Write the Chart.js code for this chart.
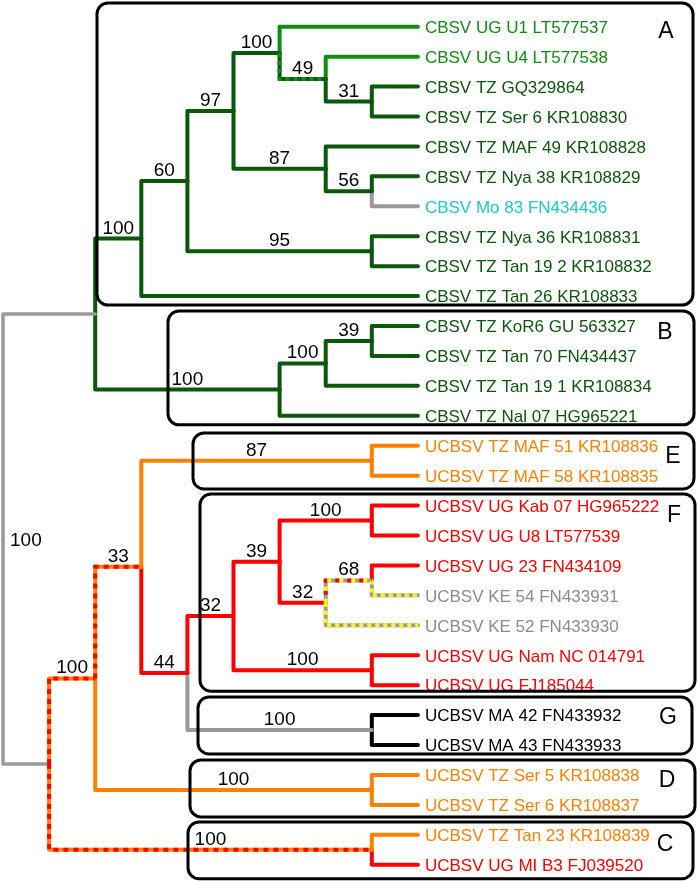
<!DOCTYPE html>
<html>
<head>
<meta charset="utf-8">
<script src="https://cdn.jsdelivr.net/npm/chart.js@4.4.1/dist/chart.umd.min.js"></script>
<style>
  html, body { margin: 0; padding: 0; background: #fff; }
  #wrap { width: 697px; height: 883px; position: relative; }
</style>
</head>
<body>
<div id="wrap"><canvas id="tree"></canvas></div>
<script>
// Tips, top to bottom (y value = index)
const leafNames = [
  "CBSV UG U1 LT577537", "CBSV UG U4 LT577538", "CBSV TZ GQ329864", "CBSV TZ Ser 6 KR108830",
  "CBSV TZ MAF 49 KR108828", "CBSV TZ Nya 38 KR108829", "CBSV Mo 83 FN434436",
  "CBSV TZ Nya 36 KR108831", "CBSV TZ Tan 19 2 KR108832", "CBSV TZ Tan 26 KR108833",
  "CBSV TZ KoR6 GU 563327", "CBSV TZ Tan 70 FN434437", "CBSV TZ Tan 19 1 KR108834",
  "CBSV TZ Nal 07 HG965221", "UCBSV TZ MAF 51 KR108836", "UCBSV TZ MAF 58 KR108835",
  "UCBSV UG Kab 07 HG965222", "UCBSV UG U8 LT577539", "UCBSV UG 23 FN434109",
  "UCBSV KE 54 FN433931", "UCBSV KE 52 FN433930", "UCBSV UG Nam NC 014791",
  "UCBSV UG FJ185044", "UCBSV MA 42 FN433932", "UCBSV MA 43 FN433933",
  "UCBSV TZ Ser 5 KR108838", "UCBSV TZ Ser 6 KR108837", "UCBSV TZ Tan 23 KR108839",
  "UCBSV UG MI B3 FJ039520"
];
const leafTextColors = [
  "ltgreen", "ltgreen", "dkgreen", "dkgreen", "dkgreen", "dkgreen", "cyan", "dkgreen", "dkgreen", "dkgreen",
  "dkgreen", "dkgreen", "dkgreen", "dkgreen", "orange", "orange", "red", "red", "red", "grayText",
  "grayText", "red", "red", "black", "black", "orange", "orange", "orange", "red"
];
const leafBranch = [
  "ltgreen", "ltgreen", "dkgreen", "dkgreen", "dkgreen", "dkgreen", "gray", "dkgreen", "dkgreen", "dkgreen",
  "dkgreen", "dkgreen", "dkgreen", "dkgreen", "orange", "orange", "red", "red", "red", "grayYellow",
  "grayYellow", "red", "red", "black", "black", "orange", "orange", "orange", "red"
];
const tipDepth = 9;

// Internal nodes: depth (0 = root), children (number = tip index), support, branch leading to node
const nodeIds      = ["root", "cbsv", "A", "n60", "n97", "n100a", "n49", "n31", "n87", "n56", "n95",
                      "B", "nB100", "nB39", "ucbsv", "n100u", "n33", "E", "n44", "n32a", "n39",
                      "n100c", "n32b", "n68", "n100b", "G", "D", "C"];
const nodeDepths   = [0, 2, 3, 4, 5, 6, 7, 8, 7, 8, 8,
                      6, 7, 8, 1, 2, 3, 8, 4, 5, 6,
                      8, 7, 8, 8, 8, 8, 8];
const nodeChildren = [["cbsv", "ucbsv"], ["A", "B"], ["n60", 9], ["n97", "n95"], ["n100a", "n87"],
                      [0, "n49"], [1, "n31"], [2, 3], [4, "n56"], [5, 6], [7, 8],
                      ["nB100", 13], ["nB39", 12], [10, 11], ["n100u", "C"], ["n33", "D"],
                      ["E", "n44"], [14, 15], ["n32a", "G"], ["n39", "n100b"], ["n100c", "n32b"],
                      [16, 17], ["n68", 20], [18, 19], [21, 22], [23, 24], [25, 26], [27, 28]];
const nodeSupport  = [100, null, 100, 60, 97, 100, 49, 31, 87, 56, 95,
                      100, 100, 39, null, 100, 33, 87, 44, 32, 39,
                      100, 32, 68, 100, 100, 100, 100];
const nodeBranch   = [null, "grayRoot", "dkgreen", "dkgreen", "dkgreen", "dkgreen", "greenMix", "dkgreen", "dkgreen", "dkgreen", "dkgreen",
                      "dkgreen", "dkgreen", "dkgreen", "grayRoot", "redOrange", "redOrange", "orange", "red", "red", "red",
                      "red", "red", "grayMix", "red", "gray", "orange", "redOrange"];

// Clade boxes
const cladeLabels = ["A", "B", "E", "F", "G", "D", "C"];
const cladeFirst  = [0, 10, 14, 16, 23, 25, 27];
const cladeLast   = [9, 13, 15, 22, 24, 26, 28];

const colors = {
  dkgreen: "#0b570b", ltgreen: "#128c12", cyan: "#1ccad2", gray: "#9a9a9a", grayText: "#8c8c8c",
  red: "#ff0000", orange: "#ff8000", yellow: "#ffff00", black: "#000000"
};
const branchStyles = {
  dkgreen: { base: "dkgreen" },
  ltgreen: { base: "ltgreen" },
  greenMix: { base: "dkgreen", over: [["ltgreen", [4, 4], 0]] },
  gray: { base: "gray" },
  grayRoot: { base: "gray", width: 3.5 },
  red: { base: "red" },
  orange: { base: "orange" },
  black: { base: "black" },
  redOrange: { base: "orange", over: [["red", [5, 5], 0]] },
  grayYellow: { base: "gray", over: [["yellow", [4, 4], 0]] },
  grayMix: { base: "gray", over: [["yellow", [4, 8], 0], ["red", [4, 8], 4]] }
};

// box layout (pixels)
const boxLayout = {
  A: { left: 97, right: 693, padTop: 23.7, padBot: 9, lx: 27, ly: 3.3 },
  B: { left: 168, right: 694, padTop: 15, padBot: 9, lx: 29, ly: 5 },
  E: { left: 193, right: 694, padTop: 12.7, padBot: 13.3, lx: 21, ly: 9.3 },
  F: { left: 200, right: 695, padTop: 11.6, padBot: 6, lx: 21, ly: 8.4 },
  G: { left: 198, right: 692, padTop: 18, padBot: 9, lx: 24, ly: 0.9 },
  D: { left: 190, right: 695, padTop: 15, padBot: 12, lx: 28, ly: 4 },
  C: { left: 188, right: 693, padTop: 12.8, padBot: 14, lx: 28, ly: 8 }
};

function nodeIndex(id) { return nodeIds.indexOf(id); }
function depthOf(c) { return typeof c === "number" ? tipDepth : nodeDepths[nodeIndex(c)]; }
function yOf(c) {
  if (typeof c === "number") return c;
  const kids = nodeChildren[nodeIndex(c)];
  return (yOf(kids[0]) + yOf(kids[kids.length - 1])) / 2;
}
function branchOf(c) { return typeof c === "number" ? leafBranch[c] : nodeBranch[nodeIndex(c)]; }

// build elbow datasets (higher order = drawn underneath, so dashes go on top)
const datasets = [];
nodeIds.forEach((id, i) => {
  const px = nodeDepths[i], py = yOf(id);
  nodeChildren[i].forEach((c) => {
    const pts = [{ x: px, y: py }, { x: px, y: yOf(c) }, { x: depthOf(c), y: yOf(c) }];
    const st = branchStyles[branchOf(c)];
    const w = st.width || 4;
    datasets.push({
      data: pts, showLine: true, pointRadius: 0, borderWidth: w, order: 2,
      borderColor: colors[st.base], borderCapStyle: "round", borderJoinStyle: "round", tension: 0
    });
    (st.over || []).forEach(([col, dash, off]) => {
      datasets.push({
        data: pts, showLine: true, pointRadius: 0, borderWidth: w, order: 1,
        borderColor: colors[col], borderDash: dash, borderDashOffset: off,
        borderCapStyle: "butt", borderJoinStyle: "miter", tension: 0
      });
    });
  });
});

function roundRect(ctx, x, y, w, h, r) {
  ctx.beginPath();
  ctx.moveTo(x + r, y);
  ctx.lineTo(x + w - r, y);
  ctx.arcTo(x + w, y, x + w, y + r, r);
  ctx.lineTo(x + w, y + h - r);
  ctx.arcTo(x + w, y + h, x + w - r, y + h, r);
  ctx.lineTo(x + r, y + h);
  ctx.arcTo(x, y + h, x, y + h - r, r);
  ctx.lineTo(x, y + r);
  ctx.arcTo(x, y, x + r, y, r);
  ctx.closePath();
}

const treeText = {
  id: "treeText",
  afterDatasetsDraw(chart) {
    const ctx = chart.ctx;
    const xs = chart.scales.x, ys = chart.scales.y;
    ctx.save();

    // tip labels
    ctx.font = '17px "Liberation Sans", Arial, sans-serif';
    ctx.textAlign = "left";
    ctx.textBaseline = "alphabetic";
    leafNames.forEach((name, i) => {
      ctx.fillStyle = colors[leafTextColors[i]];
      ctx.fillText(name, xs.getPixelForValue(tipDepth) + 7, ys.getPixelForValue(i) + 6.3);
    });

    // support values
    ctx.font = '19px "Liberation Sans", Arial, sans-serif';
    ctx.fillStyle = "#000";
    nodeIds.forEach((id, i) => {
      if (nodeSupport[i] == null) return;
      if (id === "root") {
        ctx.textAlign = "left";
        ctx.textBaseline = "middle";
        ctx.fillText(String(nodeSupport[i]), xs.getPixelForValue(0) + 7, ys.getPixelForValue(yOf(id)) + 2);
        return;
      }
      // parent of this node
      const p = nodeChildren.findIndex((k) => k.includes(id));
      const x0 = xs.getPixelForValue(nodeDepths[p]);
      const x1 = xs.getPixelForValue(nodeDepths[i]);
      ctx.textAlign = "center";
      ctx.textBaseline = "alphabetic";
      ctx.fillText(String(nodeSupport[i]), (x0 + x1) / 2, ys.getPixelForValue(yOf(id)) - 5);
    });

    // clade boxes
    ctx.strokeStyle = "#000";
    ctx.lineWidth = 3;
    cladeLabels.forEach((lab, k) => {
      const b = boxLayout[lab];
      const top = ys.getPixelForValue(cladeFirst[k]) - b.padTop;
      const bot = ys.getPixelForValue(cladeLast[k]) + b.padBot;
      roundRect(ctx, b.left, top, b.right - b.left, bot - top, 11);
      ctx.stroke();
      ctx.font = '23px "Liberation Sans", Arial, sans-serif';
      ctx.textAlign = "center";
      ctx.textBaseline = "alphabetic";
      ctx.fillStyle = "#000";
      ctx.fillText(lab, b.right - b.lx, ys.getPixelForValue(cladeFirst[k]) + b.ly + 8.2);
    });
    ctx.restore();
  }
};

new Chart(document.getElementById("tree"), {
  type: "scatter",
  data: { datasets: datasets },
  options: {
    responsive: true,
    maintainAspectRatio: false,
    animation: false,
    events: [],
    layout: { padding: 0 },
    plugins: { legend: { display: false }, tooltip: { enabled: false } },
    scales: {
      x: { type: "linear", display: false, min: -0.0651, max: 15.054 },
      y: { type: "linear", display: false, reverse: true, min: -0.892, max: 28.61 }
    }
  },
  plugins: [treeText]
});
</script>
</body>
</html>
